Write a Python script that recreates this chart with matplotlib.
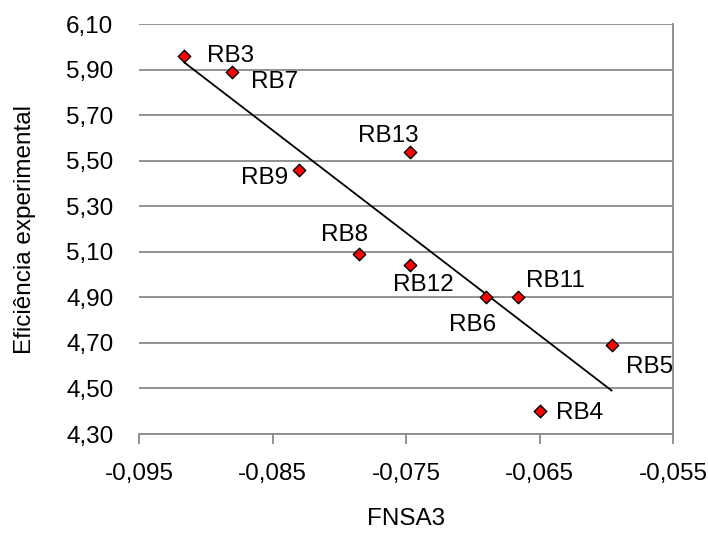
import numpy as np
import matplotlib
matplotlib.use("Agg")
import matplotlib.pyplot as plt
from matplotlib.ticker import FuncFormatter

plt.rcParams['font.family'] = ['Liberation Sans', 'DejaVu Sans']

# dados
amostras = ['RB3', 'RB7', 'RB13', 'RB9', 'RB8', 'RB12', 'RB6', 'RB11', 'RB5', 'RB4']
fnsa3 = [-0.0916, -0.0880, -0.0747, -0.0830, -0.0785, -0.0747, -0.0690, -0.0666, -0.0596, -0.0650]
eficiencia = [5.96, 5.89, 5.54, 5.46, 5.09, 5.04, 4.90, 4.90, 4.69, 4.40]
xticks = [-0.095, -0.085, -0.075, -0.065, -0.055]
yticks = [4.30, 4.50, 4.70, 4.90, 5.10, 5.30, 5.50, 5.70, 5.90, 6.10]

# posição dos rótulos (pixels em relação ao ponto)
desloc = {'RB3': (23, 0, 'left'), 'RB7': (19, -10, 'left'), 'RB13': (-22, 16, 'center'),
          'RB9': (-11, -8, 'right'), 'RB8': (-15, 19, 'center'), 'RB12': (13, -20, 'center'),
          'RB6': (-14, -28, 'center'), 'RB11': (8, 16, 'left'), 'RB5': (14, -22, 'left'),
          'RB4': (17, -2, 'left')}

fs = 17.5
fig = plt.figure(figsize=(7.08, 5.33), dpi=100)
ax = fig.add_axes([139 / 708, 99 / 533, 534 / 708, 410 / 533])

cinza = '#898989'
x = np.array(fnsa3)
y = np.array(eficiencia)

# linha de tendência
a, b = np.polyfit(x, y, 1)
xs = np.array([x.min(), x.max()])
ax.plot(xs, a * xs + b, color='black', lw=1.3, zorder=3)

ax.scatter(x, y, marker='D', s=40, color='#ff0000', edgecolors='black', linewidths=1.0, zorder=4)

for nome, xi, yi in zip(amostras, fnsa3, eficiencia):
    dx, dy, ha = desloc[nome]
    ax.annotate(nome, (xi, yi), xytext=(dx, dy), textcoords='offset pixels',
                ha=ha, va='center', fontsize=fs, color='black')

ax.set_xlim(-0.095, -0.055)
ax.set_ylim(4.30, 6.10)
ax.set_xticks(xticks)
ax.set_yticks(yticks)
ax.xaxis.set_major_formatter(FuncFormatter(lambda v, p: f'{v:.3f}'.replace('.', ',')))
ax.yaxis.set_major_formatter(FuncFormatter(lambda v, p: f'{v:.2f}'.replace('.', ',')))

ax.grid(axis='y', color=cinza, lw=1.3)
ax.set_axisbelow(True)
for lado in ['top', 'left']:
    ax.spines[lado].set_visible(False)
for lado in ['bottom', 'right']:
    ax.spines[lado].set_color(cinza)
    ax.spines[lado].set_linewidth(1.3)

ax.tick_params(axis='x', direction='out', length=7, width=1.3, color=cinza,
               labelsize=fs, pad=14)
ax.tick_params(axis='y', length=0, labelsize=fs, pad=18.5)

ax.set_xlabel('FNSA3', fontsize=fs)
ax.set_ylabel('Eficiência experimental', fontsize=fs)
ax.xaxis.set_label_coords(0.5, -0.181)
ax.yaxis.set_label_coords(-0.193, 0.5)

fig.savefig('out.png', dpi=100)
